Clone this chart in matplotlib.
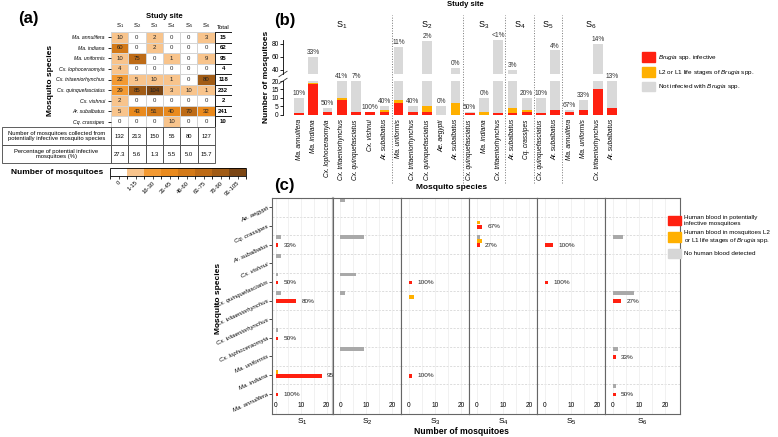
import numpy as np
import matplotlib
matplotlib.use('Agg')
import matplotlib.pyplot as plt
from matplotlib import cm, transforms
from matplotlib.colors import ListedColormap, BoundaryNorm
from matplotlib.patches import Patch

plt.rcParams['font.family'] = ['Liberation Sans', 'DejaVu Sans']
plt.rcParams['mathtext.fontset'] = 'custom'
plt.rcParams['mathtext.rm'] = 'Liberation Sans'
plt.rcParams['mathtext.it'] = 'Liberation Sans:italic'
plt.rcParams['mathtext.bf'] = 'Liberation Sans:bold'

# ---------------- panel (a): counts per site ----------------
sites = ['S$_1$', 'S$_2$', 'S$_3$', 'S$_4$', 'S$_5$', 'S$_6$']
species_a = ['Ma. annulifera', 'Ma. indiana', 'Ma. uniformis', 'Cx. lophoceraomyia',
             'Cx. tritaeniorhynchus', 'Cx. quinquefasciatus', 'Cx. vishnui',
             'Ar. subalbatus', 'Cq. crassipes']
counts_a = [[10, 0, 2, 0, 0, 3],
            [60, 0, 2, 0, 0, 0],
            [10, 75, 0, 1, 0, 9],
            [4, 0, 0, 0, 0, 0],
            [22, 5, 10, 1, 0, 80],
            [29, 85, 104, 3, 10, 1],
            [2, 0, 0, 0, 0, 0],
            [5, 43, 51, 40, 70, 32],
            [0, 0, 0, 10, 0, 0]]
totals_a = [15, 62, 95, 4, 118, 232, 2, 241, 10]
collected_a = [132, 213, 150, 55, 80, 127]
potential_pct_a = ['27.3', '5.6', '1.3', '5.5', '5.0', '15.7']
bin_edges = [-0.5, 0.5, 15.5, 30.5, 45.5, 60.5, 75.5, 90.5, 105.5]
bin_ticks = [0, 8, 23, 38, 53, 68, 83, 98]
bin_labels = ['0', '1-15', '16-30', '31-45', '46-60', '61-75', '76-90', '91-105']
bin_colors = ['#ffffff', '#f8c48c', '#f39a33', '#e98a1e', '#d37a19',
              '#bd6b17', '#a15c16', '#7b4614']

# ---------------- panel (b): Brugia infection ----------------
group_sizes_b = [7, 5, 3, 2, 2, 4]
species_b = ['Ma. annulifera', 'Ma. indiana', 'Cx. lophoceraomyia', 'Cx. tritaeniorhynchus',
             'Cx. quinquefasciatus', 'Cx. vishnui', 'Ar. subalbatus',
             'Ma. uniformis', 'Cx. tritaeniorhynchus', 'Cx. quinquefasciatus',
             'Ae. aegypti', 'Ar. subalbatus',
             'Cx. quinquefasciatus', 'Ma. indiana', 'Cx. tritaeniorhynchus',
             'Ar. subalbatus', 'Cq. crassipes',
             'Cx. quinquefasciatus', 'Ar. subalbatus',
             'Ma. annulifera', 'Ma. uniformis', 'Cx. tritaeniorhynchus', 'Ar. subalbatus']
total_b = [10, 60, 4, 22, 29, 2, 5, 75, 5, 85, 5, 43, 2, 10, 104, 40, 10, 10, 70, 3, 9, 80, 32]
infective_b = [1, 18, 2, 9, 2, 2, 2, 7, 2, 2, 0, 0, 1, 0, 1, 1, 2, 1, 3, 2, 3, 15, 4]
larval_b = [0, 1, 0, 1, 0, 0, 1, 2, 0, 3, 0, 7, 0, 2, 0, 3, 1, 0, 0, 0, 0, 0, 0]
pct_b = ['10%', '33%', '50%', '41%', '7%', '100%', '40%', '11%', '40%', '2%', '0%', '0%',
         '50%', '0%', '<1%', '3%', '20%', '10%', '4%', '67%', '33%', '14%', '13%']

# ---------------- panel (c): human blood meals ----------------
species_c = ['Ae. aegypti', 'Cq. crassipes', 'Ar. subalbatus', 'Cx. vishnui',
             'Cx. quinquefasciatus', 'Cx. tritaeniorhynchus', 'Cx. tritaeniorhynchus',
             'Cx. lophoceraomyia', 'Ma. uniformis', 'Ma. indiana', 'Ma. annulifera']
no_blood_c = [[0, 0, 2, 2, 1, 2, 0, 1, 0, 0, 0],
              [2, 0, 9, 0, 6, 2, 0, 0, 9, 0, 0],
              [0, 0, 0, 0, 0, 0, 0, 0, 0, 0, 0],
              [0, 0, 1, 0, 0, 0, 0, 0, 0, 0, 0],
              [0, 0, 0, 0, 0, 0, 0, 0, 0, 0, 0],
              [0, 0, 4, 0, 0, 8, 0, 0, 2, 0, 1]]
larval_blood_c = [[0, 0, 0, 0, 0, 0, 0, 0, 0, 1, 0],
                  [0, 0, 0, 0, 0, 0, 0, 0, 0, 0, 0],
                  [0, 0, 0, 0, 0, 2, 0, 0, 0, 0, 0],
                  [0, 1, 2, 0, 0, 0, 0, 0, 0, 0, 0],
                  [0, 0, 0, 0, 0, 0, 0, 0, 0, 0, 0],
                  [0, 0, 0, 0, 0, 0, 0, 0, 0, 0, 0]]
infective_blood_c = [[0, 0, 1, 0, 1, 8, 0, 1, 0, 18, 1],
                     [0, 0, 0, 0, 0, 0, 0, 0, 0, 0, 0],
                     [0, 0, 0, 0, 1, 0, 0, 0, 0, 1, 0],
                     [0, 2, 1, 0, 0, 0, 0, 0, 0, 0, 0],
                     [0, 0, 3, 0, 1, 0, 0, 0, 0, 0, 0],
                     [0, 0, 0, 0, 0, 3, 0, 0, 1, 0, 1]]
pct_c = [['', '', '33%', '', '50%', '80%', '', '50%', '', '95%', '100%'],
         ['', '', '', '', '', '', '', '', '', '', ''],
         ['', '', '', '', '100%', '', '', '', '', '100%', ''],
         ['', '67%', '27%', '', '', '', '', '', '', '', ''],
         ['', '', '100%', '', '100%', '', '', '', '', '', ''],
         ['', '', '', '', '', '27%', '', '', '33%', '', '50%']]

RED = '#ff2010'
ORANGE = '#ffb000'
GRAY = '#d9d9d9'
GRAY_C = '#a9a9a9'
TXT = '#222222'

W, H = 778, 437
fig = plt.figure(figsize=(W / 100, H / 100), dpi=100)


def px_axes(x0, y0, x1, y1):
    return fig.add_axes([x0 / W, 1 - y1 / H, (x1 - x0) / W, (y1 - y0) / H])


def ftext(x, y, s, **kw):
    return fig.text(x / W, 1 - y / H, s, **kw)


# ======================= (a) =======================
ftext(28, 19, '(a)', fontsize=12, fontweight='bold', ha='center', va='center')
ftext(164, 16, 'Study site', fontsize=5.5, fontweight='bold', ha='center', va='center')
ftext(50, 80, 'Mosquito species', fontsize=6, fontweight='bold', rotation=90,
      ha='center', va='center')

counts = np.array(counts_a)
nrow, ncol = counts.shape
cmap_a = ListedColormap(bin_colors)
norm_a = BoundaryNorm(bin_edges, cmap_a.N)

ax_a = px_axes(111, 32, 232, 127)
ax_a.pcolormesh(np.arange(ncol + 1) - 0.5, np.arange(nrow + 1) - 0.5, counts,
                cmap=cmap_a, norm=norm_a, edgecolors='#d4d4d4', linewidth=0.4)
ax_a.pcolormesh([ncol - 0.5, ncol + 0.5], np.arange(nrow + 1) - 0.5, np.zeros((nrow, 1)),
                cmap=ListedColormap(['white']), edgecolors='#222222', linewidth=0.7)
for i in range(nrow):
    for j in range(ncol):
        ax_a.text(j, i, str(counts[i, j]), ha='center', va='center', fontsize=4.3, color=TXT)
    ax_a.text(ncol, i, str(totals_a[i]), ha='center', va='center', fontsize=4.3,
              fontweight='bold', color='black')
ax_a.set_xlim(-0.5, ncol + 0.5)
ax_a.set_ylim(nrow - 0.5, -0.5)
ax_a.xaxis.tick_top()
ax_a.set_xticks(range(ncol + 1))
ax_a.set_xticklabels(sites + ['Total'], fontsize=4.3)
ax_a.tick_params(axis='x', length=0, pad=1.5)
ax_a.set_yticks(range(nrow))
ax_a.set_yticklabels(species_a, fontsize=3.7, fontstyle='italic')
ax_a.tick_params(axis='y', length=2.5, width=0.6, pad=2)
for s in ax_a.spines.values():
    s.set_visible(False)

# table under the heat map
ax_t = px_axes(2, 127, 215, 163)
ax_t.axis('off')
cell_text = [['Number of mosquitoes collected from\npotentially infective mosquito species']
             + [str(v) for v in collected_a],
             ['Percentage of potential infective\nmosquitoes (%)'] + potential_pct_a]
tbl = ax_t.table(cellText=cell_text, colWidths=[109 / 213] + [104 / 6 / 213] * 6,
                 cellLoc='center', bbox=[0, 0, 1, 1])
tbl.auto_set_font_size(False)
tbl.set_fontsize(4.2)
for (r, c), cell in tbl.get_celld().items():
    cell.set_edgecolor('#444444')
    cell.set_linewidth(0.6)
    if c == 0:
        cell._loc = 'left'
        cell.PAD = 0.03

# colour key
ftext(103, 172, 'Number of mosquitoes', fontsize=6, fontweight='bold', ha='right', va='center')
cax = px_axes(110, 168, 246, 176)
cb = fig.colorbar(cm.ScalarMappable(norm=norm_a, cmap=cmap_a), cax=cax,
                  orientation='horizontal', ticks=bin_ticks)
cb.set_ticklabels(bin_labels)
cb.outline.set_linewidth(0.6)
cax.tick_params(labelsize=4.2, length=2, width=0.5, pad=1)
for lab in cax.get_xticklabels():
    lab.set_rotation(45)
    lab.set_ha('right')
    lab.set_rotation_mode('anchor')

# ======================= (b) =======================
ftext(285, 20, '(b)', fontsize=12, fontweight='bold', ha='center', va='center')
ftext(465, 5, 'Study site', fontsize=5.5, fontweight='bold', ha='center', va='center')
ftext(452, 188, 'Mosquito species', fontsize=6, fontweight='bold', ha='center', va='center')
ftext(266, 77, 'Number of mosquitoes', fontsize=6, fontweight='bold', rotation=90,
      ha='center', va='center')

xb = np.arange(len(species_b))
ax_up = px_axes(283, 40, 622, 74)
ax_lo = px_axes(283, 81, 622, 115)
for ax in (ax_up, ax_lo):
    ax.bar(xb, total_b, 0.68, color=GRAY)
    ax.bar(xb, infective_b, 0.68, color=RED)
    ax.bar(xb, larval_b, 0.68, bottom=infective_b, color=ORANGE)
    ax.set_xlim(-1.13, len(species_b) - 0.3)
    for side in ('top', 'right', 'bottom'):
        ax.spines[side].set_visible(False)
    ax.spines['left'].set_linewidth(0.6)
    ax.tick_params(axis='y', labelsize=4.8, length=2, width=0.6, pad=1)
ax_up.set_ylim(33, 86)
ax_up.set_yticks([40, 60, 80])
ax_up.set_xticks([])
ax_lo.set_ylim(0, 20)
ax_lo.set_yticks([0, 5, 10, 15, 20])
ax_lo.set_xticks(xb)
ax_lo.set_xticklabels(species_b, rotation=90, fontsize=4.7, fontstyle='italic')
ax_lo.tick_params(axis='x', length=0, pad=3)

# break marks
d = 0.04
ax_up.plot([-0.012, 0.012], [-d * 2, d * 2], transform=ax_up.transAxes, color='#333', lw=0.6, clip_on=False)
ax_lo.plot([-0.012, 0.012], [1 - d * 2, 1 + d * 2], transform=ax_lo.transAxes, color='#333', lw=0.6, clip_on=False)

for i, (v, lab) in enumerate(zip(total_b, pct_b)):
    if v >= 33:
        ax_up.text(i, min(v, 86) + 1, lab, ha='center', va='bottom', fontsize=4.8,
                   color='#333', clip_on=False)
    else:
        ax_lo.text(i, min(v, 20) + 0.6, lab, ha='center', va='bottom', fontsize=4.8,
                   color='#333', clip_on=False)

bounds = np.cumsum(group_sizes_b)
starts = np.concatenate([[0], bounds[:-1]])
for b in bounds[:-1]:
    ax_lo.axvline(b - 0.5, ymin=-2.0, ymax=2.95, ls=':', color='#777777', lw=0.7, clip_on=False)
site_tr = transforms.blended_transform_factory(ax_up.transData, fig.transFigure)
for s0, b, name in zip(starts, bounds, sites):
    ax_up.text((s0 + b - 1) / 2, 1 - 25 / H, name, transform=site_tr, ha='center',
               va='center', fontsize=6.5)

fig.legend(handles=[Patch(color=RED), Patch(color=ORANGE), Patch(color=GRAY)],
           labels=['$\\it{Brugia}$ spp. infective',
                   'L2 or L1 life stages of $\\it{Brugia}$ spp.',
                   'Not infected with $\\it{Brugia}$ spp.'],
           loc='upper left', bbox_to_anchor=(642 / W, 1 - 52 / H), frameon=False,
           fontsize=4.6, handlelength=2.0, handleheight=2.0, handletextpad=0.5,
           labelspacing=0.75, borderaxespad=0, borderpad=0)

# ======================= (c) =======================
ftext(284, 186, '(c)', fontsize=12, fontweight='bold', ha='center', va='center')
ftext(218, 298, 'Mosquito species', fontsize=6, fontweight='bold', rotation=90,
      ha='center', va='center')
ftext(461, 432, 'Number of mosquitoes', fontsize=6.2, fontweight='bold', ha='center', va='center')

c_left = [272, 333, 401, 469, 537, 605]
c_right = [333, 401, 469, 537, 605, 680]
c_xlim = [(-1.45, 22.5), (-2.8, 23.4), (-3.1, 23.1), (-3.1, 23.1), (-3.1, 23.1), (-3.1, 25.8)]
nc = len(species_c)
yc = np.arange(nc)[::-1]
for k in range(len(sites)):
    ax = px_axes(c_left[k], 198, c_right[k], 414)
    for g in np.arange(nc - 1) + 0.5:
        ax.axhline(g, color='#cfcfcf', lw=0.5, ls=(0, (3, 2)), zorder=0)
    for xv in [0, 5, 10, 15, 20]:
        ax.axvline(xv, color='#ebebeb', lw=0.5, zorder=0)
    ax.barh(yc + 0.4, no_blood_c[k], 0.2, color=GRAY_C, zorder=2)
    ax.barh(yc + 0.18, larval_blood_c[k], 0.2, color=ORANGE, zorder=2)
    ax.barh(yc - 0.04, infective_blood_c[k], 0.2, color=RED, zorder=2)
    for y, v, lab in zip(yc, infective_blood_c[k], pct_c[k]):
        if lab:
            ax.annotate(lab, (v, y - 0.04), xytext=(4, 0), textcoords='offset points',
                        fontsize=4.6, va='center', color=TXT)
    ax.set_xlim(*c_xlim[k])
    ax.set_ylim(-1.09, nc - 0.5)
    ax.set_xticks([0, 10, 20])
    ax.tick_params(axis='x', labelsize=4.8, length=0, pad=-8.5)
    ax.set_yticks(yc)
    if k == 0:
        ax.set_yticklabels(species_c, fontsize=4.3, fontstyle='italic', rotation=25,
                           ha='right', rotation_mode='anchor')
        ax.tick_params(axis='y', length=2, width=0.5, pad=1)
    else:
        ax.set_yticklabels([])
        ax.tick_params(axis='y', length=0)
    for s in ax.spines.values():
        s.set_color('#666666')
        s.set_linewidth(0.8)
    if k == 0:
        ax.spines['right'].set_color('#bdbdbd')
        ax.spines['right'].set_linewidth(1.6)
    ftext((c_left[k] + c_right[k]) / 2, 422, sites[k], fontsize=6, ha='center', va='center')

fig.legend(handles=[Patch(color=RED), Patch(color=ORANGE), Patch(color='#d6d6d6')],
           labels=['Human blood in potentially\ninfective mosquitoes',
                   'Human blood in mosquitoes L2\nor L1 life stages of $\\it{Brugia}$ spp.',
                   'No human blood detected'],
           loc='upper left', bbox_to_anchor=(668 / W, 1 - 215 / H), frameon=False,
           fontsize=4.5, handlelength=2.0, handleheight=2.0, handletextpad=0.6,
           labelspacing=0.6, borderaxespad=0, borderpad=0)

fig.savefig('out.png', dpi=100)
